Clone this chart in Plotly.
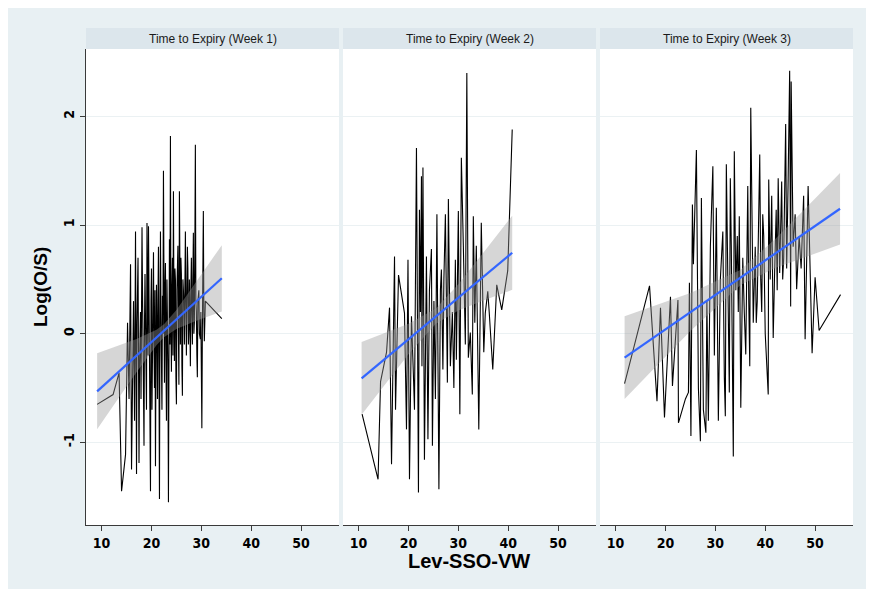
import plotly.graph_objects as go

# ---------------- data ----------------
panel_titles = ["Time to Expiry (Week 1)", "Time to Expiry (Week 2)", "Time to Expiry (Week 3)"]
x_ticks = [10, 20, 30, 40, 50]
y_ticks = [-1, 0, 1, 2]
y_tick_labels = ["-1", "0", "1", "2"]

# (Lev-SSO-VW, Log(O/S)) observations, sorted by x
w1_points = [
    (9.1, -0.65), (12.3, -0.56), (13.5, -0.36), (14.0, -1.45), (14.8, -1.11), (15.2, 0.10), (15.5, -0.60),
    (15.8, 0.64), (16.0, -1.25), (16.2, -0.20), (16.4, 0.30), (16.6, -0.80), (16.8, 0.94), (17.0, -1.29),
    (17.1, 0.10), (17.3, 0.70), (17.5, -1.19), (17.6, -0.30), (17.8, 0.20), (17.9, -0.60), (18.1, 0.98),
    (18.2, 0.40), (18.3, -0.40), (18.5, -1.03), (18.6, 0.10), (18.7, 0.55), (18.9, -0.30), (19.0, -0.70),
    (19.1, 1.02), (19.2, 0.30), (19.3, -0.20), (19.4, 0.99), (19.5, 0.20), (19.6, -0.90), (19.8, -1.45),
    (19.9, 0.30), (20.0, 0.60), (20.1, -0.70), (20.2, -0.30), (20.3, 0.20), (20.4, 0.75), (20.5, -0.10),
    (20.6, -0.50), (20.7, 0.40), (20.8, -1.22), (20.9, -0.20), (21.0, 0.45), (21.1, 0.00), (21.2, -0.60),
    (21.3, 0.30), (21.4, 0.80), (21.5, -0.30), (21.6, -1.52), (21.7, 0.10), (21.8, 0.94), (21.9, 0.20),
    (22.0, -0.10), (22.1, -0.70), (22.2, 0.35), (22.3, 0.00), (22.4, 1.50), (22.5, 0.10), (22.6, -0.45),
    (22.7, 0.40), (22.8, 0.65), (22.9, -0.20), (23.0, -0.80), (23.1, 0.50), (23.2, 0.20), (23.3, -0.30),
    (23.4, -1.55), (23.5, 0.30), (23.6, 0.87), (23.7, -0.10), (23.8, 1.82), (23.9, 0.10), (24.0, -0.35),
    (24.1, 0.45), (24.2, 0.70), (24.3, -0.20), (24.4, 1.31), (24.5, 0.30), (24.6, -0.25), (24.7, 0.60),
    (24.8, 0.50), (24.9, -0.40), (25.0, -0.65), (25.1, 0.40), (25.3, 0.81), (25.4, 0.00), (25.5, -0.47),
    (25.6, 1.31), (25.7, 0.20), (25.8, -0.10), (25.9, 0.70), (26.0, 0.55), (26.1, -0.30), (26.2, -0.57),
    (26.3, 0.50), (26.5, 0.30), (26.6, -0.10), (26.8, 0.94), (26.9, 0.30), (27.0, -0.20), (27.2, 0.80),
    (27.3, 0.60), (27.4, -0.10), (27.5, 0.05), (27.6, 0.50), (27.8, -0.30), (27.9, 0.40), (28.0, 0.70),
    (28.1, 0.20), (28.2, -0.10), (28.3, 0.50), (28.4, 0.93), (28.5, 0.00), (28.6, 0.10), (28.7, 0.80),
    (28.8, 1.74), (28.9, 0.30), (29.0, 0.20), (29.1, -0.20), (29.2, -0.40), (29.3, 0.30), (29.5, 0.40),
    (29.6, 0.00), (29.8, -0.05), (29.9, 0.20), (30.1, -0.87), (30.2, 0.00), (30.4, 1.13), (30.5, 0.20),
    (30.6, -0.07), (30.8, 0.30), (34.1, 0.14),
]

w2_points = [
    (10.7, -0.74), (13.9, -1.34), (14.4, -0.44), (15.6, -0.17), (16.2, 0.24), (16.6, -1.20), (17.2, 0.71),
    (17.4, -0.70), (18.0, 0.54), (19.2, 0.19), (19.6, -0.88), (19.9, 0.68), (20.2, -1.34), (20.6, 0.16),
    (21.0, -0.40), (21.2, -0.70), (21.6, 1.71), (22.0, -1.46), (22.2, 1.14), (22.4, 0.20), (22.6, 1.45),
    (22.7, -0.30), (22.9, 1.53), (23.2, -1.16), (23.6, 0.71), (23.9, -0.97), (24.2, 0.40), (24.6, 0.78),
    (24.8, -1.03), (25.1, 0.30), (25.4, -0.60), (25.7, 1.10), (26.1, -1.43), (26.4, 0.40), (26.6, 0.59),
    (26.9, -0.33), (27.1, 0.50), (27.4, 1.10), (27.8, -0.45), (28.0, 1.24), (28.4, -0.30), (28.8, 0.20),
    (29.1, -0.50), (29.4, 0.68), (29.6, -0.24), (30.0, 1.13), (30.3, -0.74), (30.6, 1.62), (31.0, 0.81),
    (31.4, -0.10), (31.7, 2.40), (32.0, -0.22), (32.4, 0.01), (32.8, -0.56), (33.0, 1.08), (33.3, 0.10),
    (33.6, 0.81), (34.1, -0.88), (34.6, 1.02), (35.1, -0.17), (35.4, 0.19), (35.9, 0.39), (36.2, 0.19),
    (36.9, -0.33), (37.7, 0.45), (38.7, 0.22), (39.9, 0.58), (40.8, 1.88),
]

w3_points = [
    (11.8, -0.46), (16.8, 0.44), (18.3, -0.62), (19.0, 0.24), (19.8, -0.77), (21.0, 0.34), (21.4, -0.48),
    (22.5, 0.31), (22.6, -0.82), (24.0, -0.60), (24.6, -0.54), (24.8, 0.47), (25.1, -0.94), (25.4, 1.19),
    (25.6, 0.64), (26.2, 1.69), (26.6, -0.50), (27.0, -0.99), (27.2, 1.25), (27.6, -0.70), (28.1, -0.91),
    (28.3, 0.30), (28.6, -0.80), (29.0, 0.80), (29.5, 1.54), (29.8, -0.20), (30.2, 1.16), (30.6, -0.80),
    (31.0, 0.50), (31.5, 0.94), (31.8, -0.40), (32.0, -0.76), (32.2, 1.56), (32.5, 0.60), (32.8, -0.54),
    (33.0, 1.43), (33.2, 0.80), (33.6, -1.13), (33.8, 1.68), (34.1, 0.40), (34.4, 0.90), (34.6, 0.20),
    (34.8, 1.08), (35.1, -0.68), (35.3, 0.30), (35.5, 0.70), (35.8, 0.20), (36.1, -0.19), (36.3, 0.60),
    (36.5, 1.36), (36.7, 0.30), (36.9, -0.30), (37.1, 2.08), (37.4, 0.50), (37.6, 0.10), (38.0, 0.80),
    (38.2, 0.10), (38.4, 0.30), (38.6, 1.00), (38.9, 1.65), (39.1, 0.50), (39.3, 0.20), (39.5, 1.10),
    (39.7, 0.90), (40.0, 0.00), (40.3, -0.30), (40.6, -0.56), (40.7, 1.42), (41.0, 0.50), (41.3, 1.27),
    (41.6, -0.04), (41.9, 0.60), (42.2, 1.14), (42.4, 0.40), (42.6, 1.43), (42.9, 0.56), (43.3, 1.40),
    (43.5, 0.50), (43.7, 0.70), (44.1, 1.93), (44.3, 0.60), (44.6, 1.43), (44.9, 2.42), (45.1, 0.25),
    (45.2, 2.32), (45.6, 0.80), (46.0, 1.10), (46.3, 0.41), (46.8, 0.90), (47.2, 0.60), (47.7, 1.27),
    (48.0, -0.05), (48.6, 1.36), (49.4, -0.18), (50.0, 0.52), (50.8, 0.03), (55.1, 0.36),
]

# linear fit with confidence band
fit1_x = [9.1, 13.0, 17.0, 21.0, 22.5, 25.0, 29.0, 34.1]
fit1_y = [-0.53, -0.368, -0.201, -0.035, 0.027, 0.131, 0.298, 0.51]
fit1_lo = [-0.88, -0.62, -0.354, -0.106, -0.033, 0.043, 0.12, 0.205]
fit1_hi = [-0.18, -0.116, -0.048, 0.036, 0.087, 0.219, 0.476, 0.815]

fit2_x = [10.6, 15.0, 20.0, 25.5, 30.0, 35.0, 40.8]
fit2_y = [-0.41, -0.241, -0.049, 0.162, 0.334, 0.526, 0.745]
fit2_lo = [-0.745, -0.482, -0.189, 0.092, 0.213, 0.306, 0.404]
fit2_hi = [-0.075, 0.0, 0.091, 0.232, 0.455, 0.746, 1.086]

fit3_x = [11.8, 18.0, 25.0, 35.0, 42.0, 48.0, 55.0]
fit3_y = [-0.22, -0.023, 0.199, 0.516, 0.738, 0.928, 1.15]
fit3_lo = [-0.60, -0.305, 0.024, 0.446, 0.605, 0.707, 0.82]
fit3_hi = [0.16, 0.259, 0.374, 0.586, 0.871, 1.149, 1.48]

series = [
    (w1_points, fit1_x, fit1_y, fit1_lo, fit1_hi),
    (w2_points, fit2_x, fit2_y, fit2_lo, fit2_hi),
    (w3_points, fit3_x, fit3_y, fit3_lo, fit3_hi),
]

# ---------------- figure ----------------
W, H = 874, 589
OFF = 8  # page body margin offset
ML, MR, MT, MB = 86 - OFF, W - (853 - OFF), 49 - OFF, H - (525.5 - OFF)
PW = W - ML - MR
PH = H - MT - MB

BG = "#e8f0f3"
STRIP = "#dce6ec"
GRID = "#ebf1f3"
AXIS = "#3a3a3a"
FONT = "Liberation Sans Narrow, Arial Narrow, DejaVu Sans Condensed, Liberation Sans, Arial, sans-serif"
FONT_REG = "Liberation Sans, Arial, sans-serif"

panel_w = (PW - 8) / 3.0
domains = []
for i in range(3):
    a = i * (panel_w + 4) / PW
    b = (i * (panel_w + 4) + panel_w) / PW
    domains.append([a, min(b, 1.0)])

fig = go.Figure()
for i, (pts, fx, fy, flo, fhi) in enumerate(series):
    xa = "x" if i == 0 else f"x{i+1}"
    ya = "y" if i == 0 else f"y{i+1}"
    sx = [p[0] for p in pts]
    sy = [p[1] for p in pts]
    fig.add_trace(go.Scatter(x=sx, y=sy, mode="lines", line=dict(color="black", width=1.1),
                             xaxis=xa, yaxis=ya, showlegend=False, hoverinfo="skip"))
    fig.add_trace(go.Scatter(x=fx + fx[::-1], y=fhi + flo[::-1], mode="lines", fill="toself",
                             fillcolor="rgba(153,153,153,0.4)", line=dict(width=0),
                             xaxis=xa, yaxis=ya, showlegend=False, hoverinfo="skip"))
    fig.add_trace(go.Scatter(x=fx, y=fy, mode="lines", line=dict(color="#3366FF", width=2.2),
                             xaxis=xa, yaxis=ya, showlegend=False, hoverinfo="skip"))

layout = dict(
    width=W, height=H,
    margin=dict(l=ML, r=MR, t=MT, b=MB, pad=0),
    paper_bgcolor=BG, plot_bgcolor="white",
    showlegend=False,
)

for i in range(3):
    xk = "xaxis" if i == 0 else f"xaxis{i+1}"
    yk = "yaxis" if i == 0 else f"yaxis{i+1}"
    ya = "y" if i == 0 else f"y{i+1}"
    xa = "x" if i == 0 else f"x{i+1}"
    layout[xk] = dict(domain=domains[i], anchor=ya, range=[6.87, 57.6], tickmode="array",
                      tickvals=x_ticks, ticktext=[str(v) for v in x_ticks],
                      ticks="outside", ticklen=5, tickwidth=1, tickcolor=AXIS,
                      showline=True, linecolor=AXIS, linewidth=1.3, showgrid=False, zeroline=False,
                      tickfont=dict(family=FONT, size=14, color="black", weight="bold"))
    ycfg = dict(domain=[0, 1], anchor=xa, range=[-1.76, 2.62], tickmode="array",
                tickvals=y_ticks, ticktext=y_tick_labels, showgrid=True, gridcolor=GRID, gridwidth=1,
                zeroline=False)
    if i == 0:
        ycfg.update(ticks="outside", ticklen=5, tickwidth=1, tickcolor=AXIS, showline=True,
                    linecolor=AXIS, linewidth=1.3, tickangle=-90,
                    tickfont=dict(family=FONT, size=14, color="black", weight="bold"))
    else:
        ycfg.update(ticks="", showticklabels=False, showline=False)
    layout[yk] = ycfg

fig.update_layout(**layout)

# strip headers
strip_h = 21 / PH
for i in range(3):
    xd = "x domain" if i == 0 else f"x{i+1} domain"
    fig.add_shape(type="rect", xref=xd, yref="paper", x0=0, x1=1, y0=1, y1=1 + strip_h,
                  fillcolor=STRIP, line=dict(width=0), layer="below")
    fig.add_annotation(xref=xd, yref="paper", x=0.5, y=1 + strip_h / 2, text=panel_titles[i],
                       showarrow=False, font=dict(family=FONT_REG, size=12, color="#1a1a1a"),
                       xanchor="center", yanchor="middle")

# axis titles
fig.add_annotation(xref="paper", yref="paper", x=(40 - OFF - ML) / PW, y=0.5, text="<b>Log(O/S)</b>",
                   textangle=-90, showarrow=False, font=dict(family=FONT_REG, size=19, color="black"),
                   xanchor="center", yanchor="middle")
fig.add_annotation(xref="paper", yref="paper", x=(469 - OFF - ML) / PW, y=(H - MB - (562 - OFF)) / PH,
                   text="<b>Lev-SSO-VW</b>", showarrow=False,
                   font=dict(family=FONT_REG, size=20, color="black"), xanchor="center", yanchor="middle")

fig.write_html("out.html")
